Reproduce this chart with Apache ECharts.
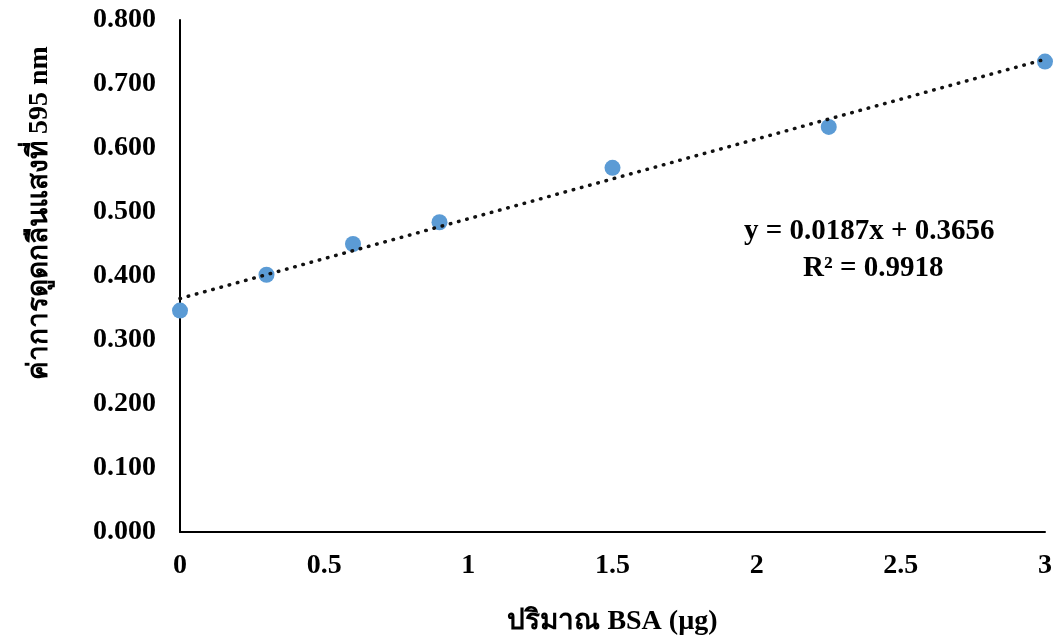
<!DOCTYPE html>
<html>
<head>
<meta charset="utf-8">
<script src="https://cdn.jsdelivr.net/npm/echarts@6/dist/echarts.min.js"></script>
<style>html,body{margin:0;padding:0;background:#fff;}#c{width:1057px;height:643px;}</style>
</head>
<body>
<div id="c"></div>
<script>
const bsaAmount = [0, 0.3, 0.6, 0.9, 1.5, 2.25, 3];
const absorbance = [0.346, 0.402, 0.450, 0.484, 0.569, 0.633, 0.735];
const xTicks = [0, 0.5, 1, 1.5, 2, 2.5, 3];
const yTicks = [0, 0.1, 0.2, 0.3, 0.4, 0.5, 0.6, 0.7, 0.8];
const equationText = 'y = 0.0187x + 0.3656';
const r2Text = 'R² = 0.9918';
const xTitle = 'ปริมาณ BSA (µg)';
const yTitle = 'ค่าการดูดกลืนแสงที่ 595 nm';

// least-squares trendline from the data
const n = bsaAmount.length;
const mx = bsaAmount.reduce((a, b) => a + b, 0) / n;
const my = absorbance.reduce((a, b) => a + b, 0) / n;
let sxy = 0, sxx = 0;
for (let i = 0; i < n; i++) { sxy += (bsaAmount[i] - mx) * (absorbance[i] - my); sxx += (bsaAmount[i] - mx) ** 2; }
const slope = sxy / sxx, intercept = my - slope * mx;
const xMin = xTicks[0], xMax = xTicks[xTicks.length - 1];
const trend = [[xMin, intercept + slope * xMin], [xMax, intercept + slope * xMax]];

const FONT = '"Liberation Serif", "Times New Roman", serif';
const chart = echarts.init(document.getElementById('c'));
chart.setOption({
  animation: false,
  grid: { left: 180, right: 12, top: 20, bottom: 111, containLabel: false },
  xAxis: {
    type: 'value', min: xMin, max: xMax, interval: 0.5,
    axisLine: { show: true, onZero: false, lineStyle: { color: '#000', width: 2 } },
    axisTick: { show: false }, splitLine: { show: false },
    axisLabel: { margin: 20, color: '#000', fontFamily: FONT, fontWeight: 'bold', fontSize: 28,
      formatter: v => String(v) },
    name: xTitle, nameLocation: 'middle', nameGap: 76,
    nameTextStyle: { color: '#000', fontFamily: FONT, fontWeight: 'bold', fontSize: 28 }
  },
  yAxis: {
    type: 'value', min: yTicks[0], max: yTicks[yTicks.length - 1], interval: 0.1,
    axisLine: { show: true, lineStyle: { color: '#000', width: 2 } },
    axisTick: { show: false }, splitLine: { show: false },
    axisLabel: { margin: 24, color: '#000', fontFamily: FONT, fontWeight: 'bold', fontSize: 28,
      formatter: v => v.toFixed(3) }
  },
  series: [
    {
      type: 'line', data: trend, showSymbol: false, silent: true, z: 3,
      lineStyle: { color: '#111', width: 3.5, type: [0.5, 8], cap: 'round' }
    },
    {
      type: 'scatter', data: bsaAmount.map((x, i) => [x, absorbance[i]]),
      symbolSize: 16, itemStyle: { color: '#5B9BD5', opacity: 1 }, z: 2
    }
  ],
  graphic: [
    { type: 'text', x: 40, y: 213, rotation: Math.PI / 2,
      style: { text: yTitle, fill: '#000', font: 'bold 28px ' + FONT, align: 'center', verticalAlign: 'middle' } },
    { type: 'text', left: 744, top: 217,
      style: { text: equationText, fill: '#000', font: 'bold 29px ' + FONT } },
    { type: 'text', left: 803, top: 254,
      style: { text: r2Text, fill: '#000', font: 'bold 29px ' + FONT } }
  ]
});
</script>
</body>
</html>
